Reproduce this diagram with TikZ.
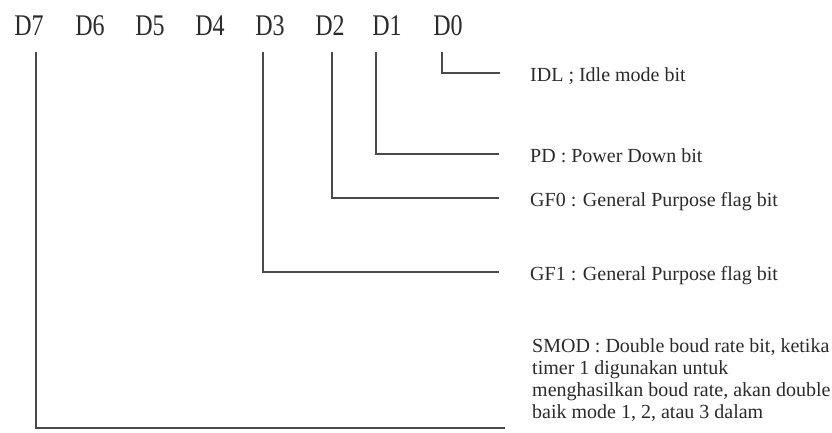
\documentclass[tikz,border=0pt]{standalone}
\usepackage{fontspec}
\usepackage{graphicx}
\setmainfont{Liberation Serif}
\definecolor{inkline}{HTML}{4A4A4A}
\definecolor{inktext}{HTML}{2B2B2B}
\tikzset{
  bitlabel/.style={anchor=base, inner sep=0pt, text=inktext,
    font=\fontsize{30}{30}\selectfont},
  desc/.style={anchor=base west, inner sep=0pt, text=inktext,
    font=\fontsize{20}{22}\selectfont},
  conn/.style={draw=inkline, line width=1.4pt}
}
\newcommand{\bitname}[1]{\scalebox{0.8}[1]{#1}}
\begin{document}
\begin{tikzpicture}[x=1pt,y=-1pt]
\useasboundingbox[fill=white] (0,0) rectangle (832,432);
% bit labels
\node[bitlabel] (d7) at (29,35) {\bitname{D7}};
\node[bitlabel] (d6) at (90,35) {\bitname{D6}};
\node[bitlabel] (d5) at (150,35) {\bitname{D5}};
\node[bitlabel] (d4) at (210,35) {\bitname{D4}};
\node[bitlabel] (d3) at (270,35) {\bitname{D3}};
\node[bitlabel] (d2) at (330,35) {\bitname{D2}};
\node[bitlabel] (d1) at (387,35) {\bitname{D1}};
\node[bitlabel] (d0) at (448,35) {\bitname{D0}};
% descriptions
\node[desc] (idl) at (530,81.5) {IDL ; Idle mode bit};
\node[desc] (pd)  at (530,162.5) {PD : Power Down bit};
\node[desc] (gf0) at (530,206.5) {GF0 : General Purpose flag bit};
\node[desc] (gf1) at (530,280.5) {GF1 : General Purpose flag bit};
\node[anchor=north west, inner sep=0pt, text=inktext, align=left,
      font=\fontsize{20}{22}\selectfont] (smod) at (532,338)
  {SMOD : Double boud rate bit, ketika\\
   timer 1 digunakan untuk\\
   menghasilkan boud rate, akan double\\
   baik mode 1, 2, atau 3 dalam};
% connector start and end points
\coordinate (s0) at (442,52);  \coordinate (e0) at (500,73);
\coordinate (s1) at (376,52);  \coordinate (e1) at (499,154);
\coordinate (s2) at (332,52);  \coordinate (e2) at (499,198);
\coordinate (s3) at (263,52);  \coordinate (e3) at (499,272);
\coordinate (s7) at (36,52);   \coordinate (e7) at (505,428);
% connectors
\draw[conn] (s0) |- (e0);
\draw[conn] (s1) |- (e1);
\draw[conn] (s2) |- (e2);
\draw[conn] (s3) |- (e3);
\draw[conn] (s7) |- (e7);
\end{tikzpicture}
\end{document}
